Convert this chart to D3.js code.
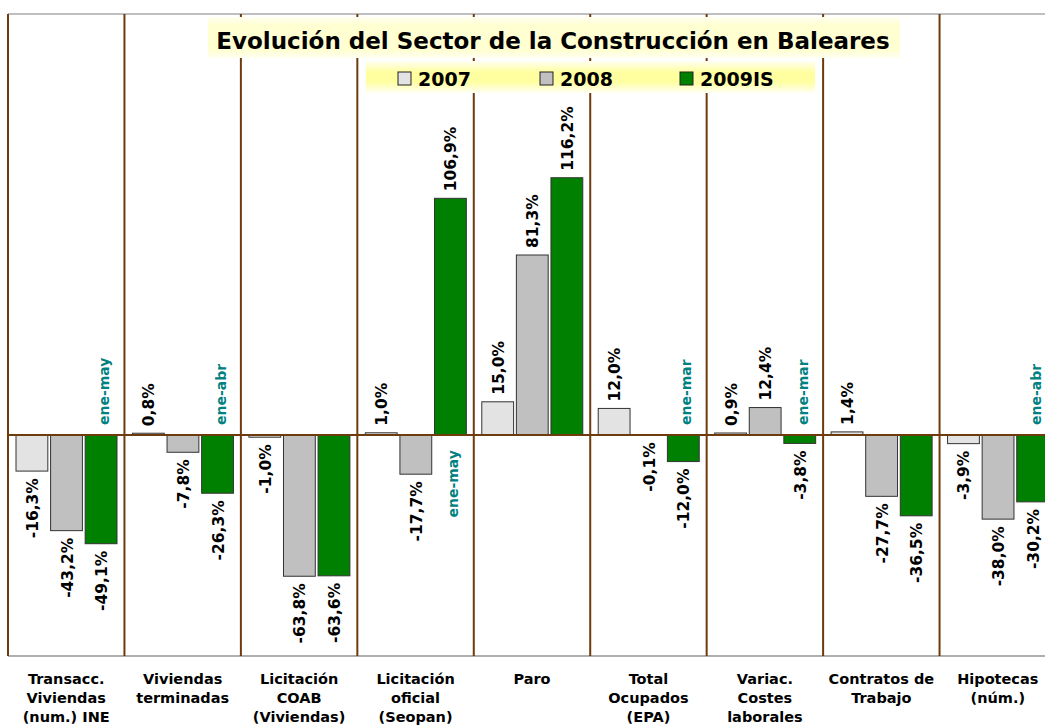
<!DOCTYPE html>
<html>
<head>
<meta charset="utf-8">
<script src="https://cdn.jsdelivr.net/npm/d3@7"></script>
<style>
  html, body { margin: 0; padding: 0; background: #ffffff; }
  svg { display: block; }
  text { font-family: "DejaVu Sans", Verdana, sans-serif; font-weight: bold; }
</style>
</head>
<body>
<svg id="chart" width="1045" height="727"></svg>
<script>
// ---- Data ----
const categories = [
  ["Transacc.", "Viviendas", "(num.) INE"],
  ["Viviendas", "terminadas"],
  ["Licitación", "COAB", "(Viviendas)"],
  ["Licitación", "oficial", "(Seopan)"],
  ["Paro"],
  ["Total", "Ocupados", "(EPA)"],
  ["Variac.", "Costes", "laborales"],
  ["Contratos de", "Trabajo"],
  ["Hipotecas", "(núm.)"]
];
const series = ["2007", "2008", "2009IS"];
const values2007 = [-16.3, 0.8, -1.0, 1.0, 15.0, 12.0, 0.9, 1.4, -3.9];
const values2008 = [-43.2, -7.8, -63.8, -17.7, 81.3, -0.1, 12.4, -27.7, -38.0];
const values2009 = [-49.1, -26.3, -63.6, 106.9, 116.2, -12.0, -3.8, -36.5, -30.2];
const periodCats = [0, 1, 3, 5, 6, 8];
const periodTexts = ["ene-may", "ene-abr", "ene-may", "ene-mar", "ene-mar", "ene-abr"];
const periodBelow = [false, false, true, false, false, false];
const titleText = "Evolución del Sector de la Construcción en Baleares";

const colors = ["#E3E3E3", "#C0C0C0", "#008000"];
const brown = "#6E3C0C";

const allValues = [values2007, values2008, values2009];
const catIdx = categories.map((d, i) => i);

const svg = d3.select("#chart");

const x0 = d3.scaleBand().domain(catIdx).range([8, 1056]).paddingInner(0).paddingOuter(0);
const x1 = d3.scaleBand().domain(series).range([8, 109]).paddingInner(0.08).paddingOuter(0);
const y = d3.scaleLinear().domain([-100, 200]).range([656.4, -7.8]);

// defs
const defs = svg.append("defs");
const lg = defs.append("linearGradient").attr("id", "legGrad").attr("x1", 0).attr("x2", 0).attr("y1", 0).attr("y2", 1);
lg.append("stop").attr("offset", "0%").attr("stop-color", "#FFFFF4");
lg.append("stop").attr("offset", "35%").attr("stop-color", "#FFFFA0");
lg.append("stop").attr("offset", "65%").attr("stop-color", "#FFFFA0");
lg.append("stop").attr("offset", "100%").attr("stop-color", "#FFFFF4");
const tg = defs.append("linearGradient").attr("id", "titGrad").attr("x1", 0).attr("x2", 0).attr("y1", 0).attr("y2", 1);
tg.append("stop").attr("offset", "0%").attr("stop-color", "#FFFFF0");
tg.append("stop").attr("offset", "20%").attr("stop-color", "#FFFFD2");
tg.append("stop").attr("offset", "80%").attr("stop-color", "#FFFFD2");
tg.append("stop").attr("offset", "100%").attr("stop-color", "#FFFFF0");

// frame
const yTop = 14, yBot = 656;
svg.append("line").attr("x1", 8).attr("x2", 1045).attr("y1", yTop).attr("y2", yTop)
  .attr("stroke", "#808080").attr("stroke-width", 1.2);
svg.append("line").attr("x1", 8).attr("x2", 1045).attr("y1", yBot).attr("y2", yBot)
  .attr("stroke", "#606060").attr("stroke-width", 1.2);

// category dividers
const bounds = catIdx.map(i => x0(i)).concat([x0(catIdx.length - 1) + x0.bandwidth()]);
svg.append("g").selectAll("line").data(bounds).join("line")
  .attr("x1", d => d).attr("x2", d => d)
  .attr("y1", yTop).attr("y2", yBot)
  .attr("stroke", brown).attr("stroke-width", 2);

// title
svg.append("rect").attr("x", 208).attr("y", 17).attr("width", 692).attr("height", 41)
  .attr("fill", "url(#titGrad)");
svg.append("text").attr("x", 553).attr("y", 49).attr("text-anchor", "middle")
  .attr("font-size", 23).attr("fill", "#000").text(titleText);

// legend
svg.append("rect").attr("x", 366).attr("y", 61).attr("width", 449).attr("height", 32)
  .attr("fill", "url(#legGrad)");
const legX = [398, 540, 680];
const leg = svg.append("g").selectAll("g").data(series).join("g")
  .attr("transform", (d, i) => `translate(${legX[i]},72)`);
leg.append("rect").attr("width", 13).attr("height", 13)
  .attr("fill", (d, i) => colors[i]).attr("stroke", "#222").attr("stroke-width", 1);
leg.append("text").attr("x", 20).attr("y", 14).attr("font-size", 19).attr("fill", "#000").text(d => d);

// bars
const groups = svg.append("g").selectAll("g").data(catIdx).join("g")
  .attr("transform", i => `translate(${x0(i)},0)`);

groups.selectAll("rect").data(i => series.map((s, k) => ({s, k, v: allValues[k][i]}))).join("rect")
  .attr("x", d => x1(d.s))
  .attr("width", x1.bandwidth())
  .attr("y", d => Math.min(y(d.v), y(0)))
  .attr("height", d => Math.abs(y(d.v) - y(0)))
  .attr("fill", d => colors[d.k])
  .attr("stroke", "#333").attr("stroke-width", 1);

// zero line
svg.append("line").attr("x1", 8).attr("x2", 1045).attr("y1", y(0)).attr("y2", y(0))
  .attr("stroke", brown).attr("stroke-width", 2);

// value labels
const fmt = v => v.toFixed(1).replace(".", ",") + "%";
groups.selectAll("text.val").data(i => series.map((s, k) => ({s, k, v: allValues[k][i]}))).join("text")
  .attr("class", "val")
  .attr("font-size", 15.5)
  .attr("fill", "#000")
  .attr("text-anchor", d => d.v >= 0 ? "start" : "end")
  .attr("dominant-baseline", "central")
  .attr("transform", d => {
    const cx = x1(d.s) + x1.bandwidth() / 2 + 1;
    const cy = d.v >= 0 ? y(d.v) - 7 : y(d.v) + 7;
    return `translate(${cx},${cy}) rotate(-90)`;
  })
  .text(d => fmt(d.v));

// period annotations
svg.append("g").selectAll("text").data(periodCats).join("text")
  .attr("font-size", 14)
  .attr("fill", "#008080")
  .attr("text-anchor", (c, j) => periodBelow[j] ? "end" : "start")
  .attr("dominant-baseline", "central")
  .attr("transform", (c, j) => {
    const cx = x0(c) + x1("2009IS") + x1.bandwidth() / 2 + 3;
    const cy = periodBelow[j] ? y(0) + 15 : y(0) - 10;
    return `translate(${cx},${cy}) rotate(-90)`;
  })
  .text((c, j) => periodTexts[j]);

// category labels
const cl = svg.append("g").selectAll("text").data(catIdx).join("text")
  .attr("x", i => x0(i) + x0.bandwidth() / 2)
  .attr("y", 684)
  .attr("text-anchor", "middle")
  .attr("font-size", 14.5)
  .attr("fill", "#000");
cl.selectAll("tspan").data(i => categories[i]).join("tspan")
  .attr("x", function() { return d3.select(this.parentNode).attr("x"); })
  .attr("dy", (d, j) => j === 0 ? 0 : 19)
  .text(d => d);
</script>
</body>
</html>
